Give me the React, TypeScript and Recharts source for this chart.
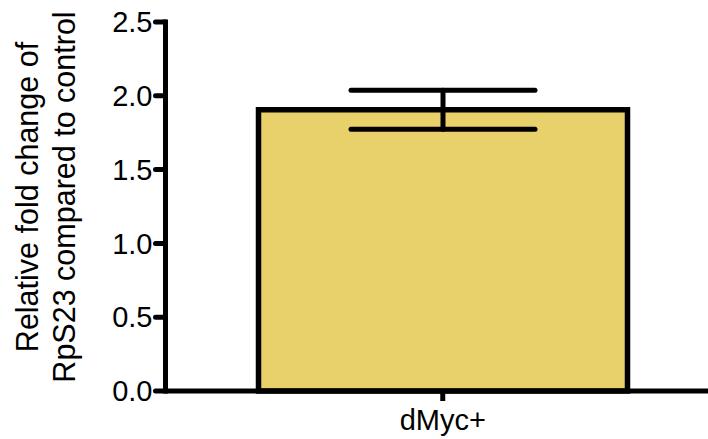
import React from 'react';
import { BarChart, Bar, XAxis, YAxis, ErrorBar, Label } from 'recharts';

const categories = ['dMyc+'];
const means = [1.906];
const errors = [0.132];
const yTicks = [0, 0.5, 1.0, 1.5, 2.0, 2.5];
const yLabelLines = ['Relative fold change of', 'RpS23 compared to control'];

const data = categories.map((c, i) => ({ name: c, value: means[i], err: errors[i] }));

const FONT = '"Liberation Sans", Arial, Helvetica, sans-serif';

const YLabel = () => (
  <text
    transform="translate(0,197) rotate(-90)"
    textAnchor="middle"
    fontFamily={FONT}
    fontSize={30.5}
    fill="#000"
  >
    <tspan x={0} y={38}>{yLabelLines[0]}</tspan>
    <tspan x={0} y={75}>{yLabelLines[1]}</tspan>
  </text>
);

export default function App() {
  return (
    <div style={{ position: 'absolute', left: 0, top: 0, width: 708, height: 439, overflow: 'hidden', background: '#fff' }}>
      <BarChart
        width={720}
        height={439}
        data={data}
        margin={{ top: 22, right: 0, bottom: 0, left: 0 }}
        barSize={369}
      >
        <XAxis
          dataKey="name"
          height={48}
          axisLine={{ stroke: '#000', strokeWidth: 5 }}
          tickLine={{ stroke: '#000', strokeWidth: 5 }}
          tickSize={10}
          tickMargin={8}
          tick={{ fill: '#000', fontSize: 29, fontFamily: FONT }}
        />
        <YAxis
          width={165.5}
          domain={[0, 2.5]}
          ticks={yTicks}
          interval={0}
          tickFormatter={(v: number) => v.toFixed(1)}
          axisLine={{ stroke: '#000', strokeWidth: 5, strokeLinecap: 'square' }}
          tickLine={{ stroke: '#000', strokeWidth: 5, strokeLinecap: 'round' }}
          tickSize={10}
          tickMargin={3}
          tick={{ fill: '#000', fontSize: 29, fontFamily: FONT }}
        >
          <Label content={YLabel} />
        </YAxis>
        <Bar dataKey="value" fill="#E8D06B" stroke="#000" strokeWidth={5.5} isAnimationActive={false}>
          <ErrorBar
            dataKey="err"
            width={92}
            stroke="#000"
            strokeWidth={5}
            strokeLinecap="round"
            isAnimationActive={false}
          />
        </Bar>
      </BarChart>
    </div>
  );
}
